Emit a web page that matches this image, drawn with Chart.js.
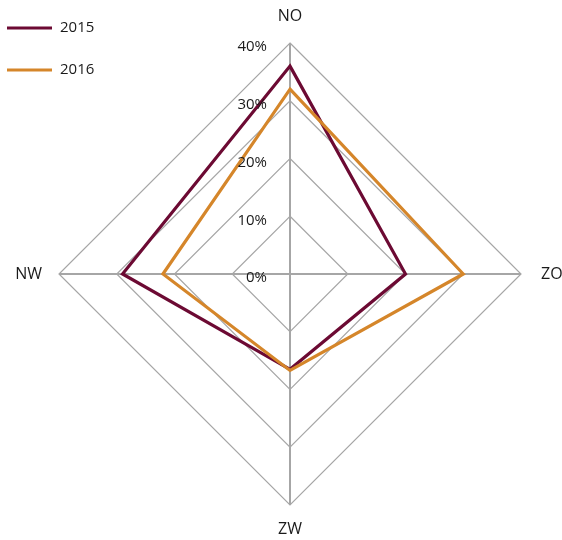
<!DOCTYPE html>
<html>
<head>
<meta charset="utf-8">
<script src="https://cdn.jsdelivr.net/npm/chart.js@4.4.1/dist/chart.umd.min.js"></script>
<style>
  html, body { margin: 0; padding: 0; background: #ffffff; }
  #wrap { width: 562px; height: 540px; }
</style>
</head>
<body>
<div id="wrap"><canvas id="c" width="562" height="540"></canvas></div>
<script>
// Wind directions (clockwise from the top)
const directions = ['NO', 'ZO', 'ZW', 'NW'];
const years = ['2015', '2016'];
// Share per direction, in percent
const values2015 = [36, 20, 16.5, 29];
const values2016 = [32, 30, 16.7, 22];
const tickValues = [0, 10, 20, 30, 40];

const colors = { '2015': '#6c0a33', '2016': '#d5862a' };
const FONT = '"Open Sans", "Noto Sans", sans-serif';
const TEXT = '#1a1a1a';

// Tick labels, point labels and the legend are drawn here so they can sit
// beside the vertical axis and around the polygon.
const annotate = {
  id: 'annotate',
  afterDraw(chart) {
    const ctx = chart.ctx;
    const r = chart.scales.r;
    ctx.save();
    ctx.fillStyle = TEXT;
    ctx.font = '15px ' + FONT;

    // percentage ticks, left of the vertical axis
    ctx.textAlign = 'right';
    ctx.textBaseline = 'middle';
    tickValues.forEach(v => {
      const d = r.getDistanceFromCenterForValue(v);
      ctx.fillText(v + '%', r.xCenter - 23, r.yCenter - d + 4);
    });

    // direction labels
    ctx.font = '16px ' + FONT;
    directions.forEach((lab, i) => {
      let pos, align;
      if (i === 0) { pos = r.getPointPosition(i, r.drawingArea + 27); align = 'center'; }
      else if (i === 1) { pos = r.getPointPosition(i, r.drawingArea + 20); align = 'left'; }
      else if (i === 2) { pos = r.getPointPosition(i, r.drawingArea + 24); align = 'center'; }
      else { pos = r.getPointPosition(i, r.drawingArea + 17); align = 'right'; }
      ctx.textAlign = align;
      ctx.textBaseline = 'middle';
      ctx.fillText(lab, pos.x, pos.y);
    });

    // legend
    ctx.font = '15px ' + FONT;
    ctx.textAlign = 'left';
    years.forEach((y, i) => {
      const yy = 28 + i * 42;
      ctx.strokeStyle = colors[y];
      ctx.lineWidth = 3;
      ctx.beginPath();
      ctx.moveTo(7, yy);
      ctx.lineTo(52, yy);
      ctx.stroke();
      ctx.fillStyle = TEXT;
      ctx.fillText(y, 60, yy);
    });
    ctx.restore();
  }
};

new Chart(document.getElementById('c'), {
  type: 'radar',
  data: {
    labels: directions,
    datasets: [
      {
        label: years[0],
        data: values2015,
        borderColor: colors['2015'],
        borderWidth: 3.2,
        borderJoinStyle: 'miter',
        fill: false,
        pointRadius: 0,
        order: 1
      },
      {
        label: years[1],
        data: values2016,
        borderColor: colors['2016'],
        borderWidth: 3.2,
        borderJoinStyle: 'miter',
        fill: false,
        pointRadius: 0,
        order: 0
      }
    ]
  },
  options: {
    responsive: false,
    animation: false,
    layout: { padding: { left: 59, right: 41, top: 43, bottom: 35 } },
    plugins: { legend: { display: false }, tooltip: { enabled: false } },
    scales: {
      r: {
        min: 0,
        max: 40,
        ticks: { display: false, stepSize: 10 },
        pointLabels: { display: false },
        grid: { color: '#a6a6a6', lineWidth: 1.2, circular: false },
        angleLines: { color: '#a6a6a6', lineWidth: 2 }
      }
    }
  },
  plugins: [annotate]
});
</script>
</body>
</html>
